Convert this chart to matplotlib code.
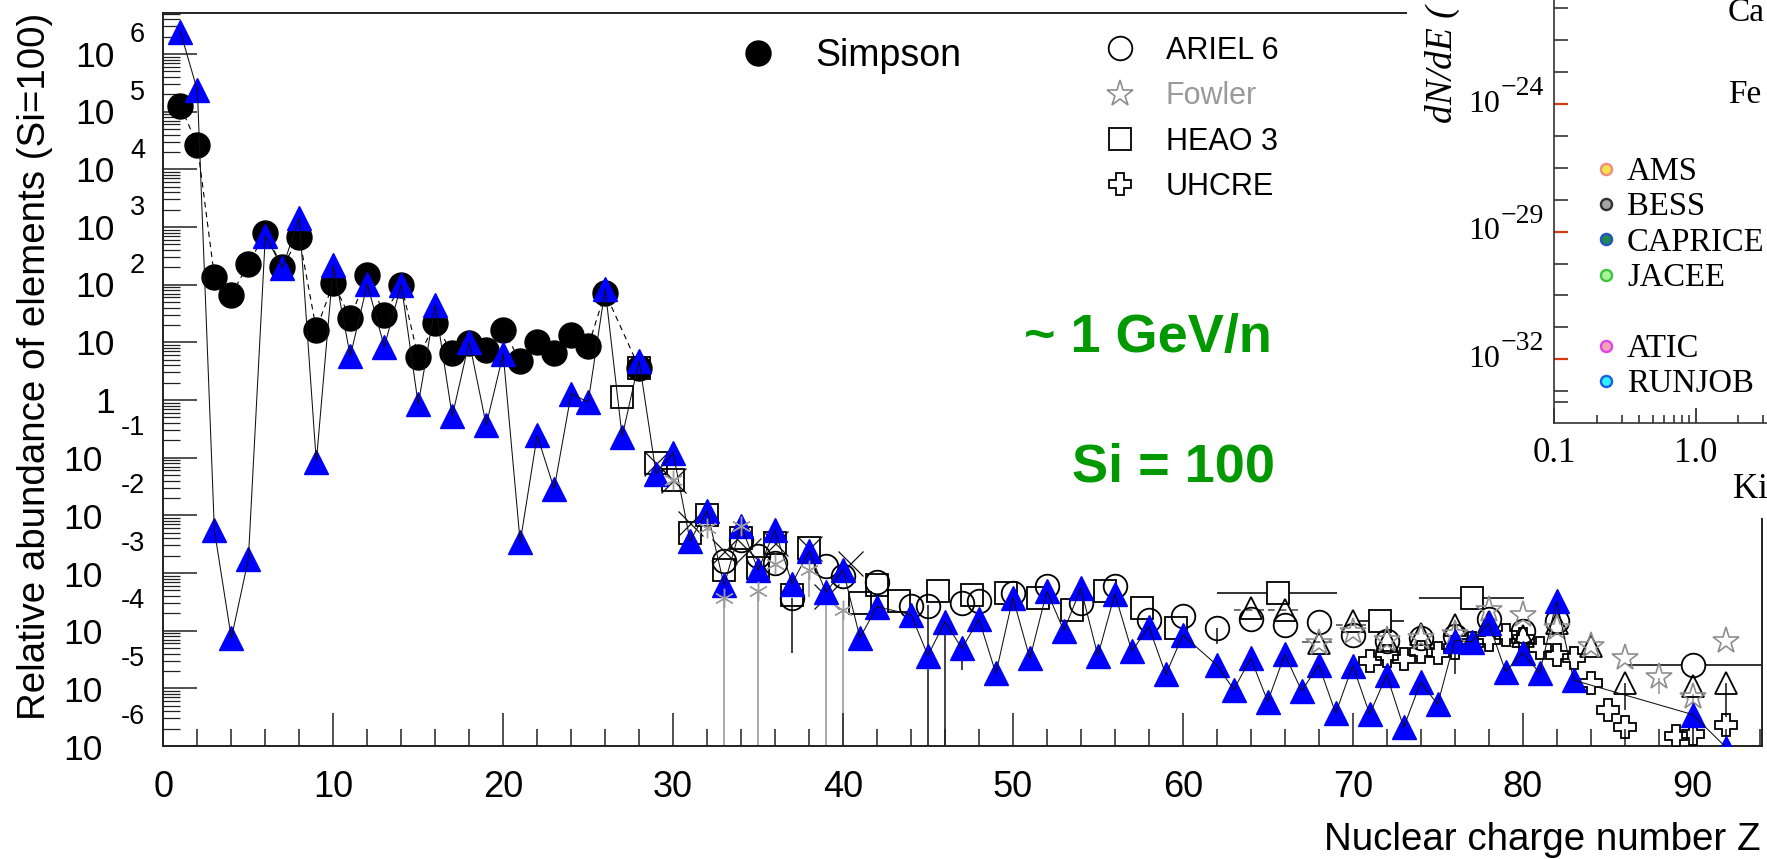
import numpy as np
import matplotlib
matplotlib.use("Agg")
import matplotlib.pyplot as plt
from matplotlib.lines import Line2D
from matplotlib.patches import Rectangle
from matplotlib.ticker import (FixedLocator, MultipleLocator, LogLocator,
                               FixedFormatter, NullFormatter)

plt.rcParams["font.family"] = ["Liberation Sans", "DejaVu Sans"]

# ---------------------------------------------------------------------------
# Data: relative abundance of elements, Si = 100 (log10 values)
# ---------------------------------------------------------------------------
# solar system abundances (blue triangles)
solar_z = list(range(1, 43)) + list(range(44, 61)) + list(range(62, 84)) + [90, 92]
solar_ab = [
    2.431e6, 2.343e5, 5.547e-3, 7.374e-5, 1.732e-3, 708, 195, 1413, 0.0841, 214.8,
    5.751, 102.0, 8.41, 100.0, 0.8373, 44.49, 0.5237, 10.25, 0.3692, 6.287,
    3.42e-3, 0.2422, 0.02884, 1.286, 0.9168, 83.8, 0.2323, 4.78, 0.0527, 0.1226,
    3.597e-3, 0.01206, 6.089e-4, 6.579e-3, 1.132e-3, 5.515e-3, 6.572e-4, 2.364e-3,
    4.608e-4, 1.133e-3, 7.554e-5, 2.601e-4,
    1.900e-4, 3.708e-5, 1.435e-4, 4.913e-5, 1.584e-4, 1.810e-5, 3.733e-4, 3.292e-5,
    4.815e-4, 9.975e-5, 5.391e-4, 3.671e-5, 4.351e-4, 4.405e-5, 1.169e-4, 1.737e-5,
    8.355e-5,
    2.542e-5, 9.513e-6, 3.321e-5, 5.907e-6, 3.862e-5, 8.986e-6, 2.554e-5, 3.700e-6,
    2.484e-5, 3.572e-6, 1.699e-5, 2.099e-6, 1.277e-5, 5.254e-6, 6.738e-5, 6.448e-5,
    1.357e-4, 1.955e-5, 4.128e-5, 1.845e-5, 3.258e-4, 1.388e-5,
    3.512e-6, 9.306e-7,
]

simpson_z = list(range(1, 27)) + [28]
simpson_log = [5.10, 4.42, 2.14, 1.82, 2.36, 2.89, 2.31, 2.82, 1.22, 2.03,
               1.42, 2.17, 1.48, 2.00, 0.74, 1.33, 0.81, 0.99, 0.87, 1.22,
               0.67, 1.01, 0.82, 1.13, 0.93, 1.86, 0.56]

ariel_z = [33, 34, 35, 36, 37, 39, 40, 42, 44, 45, 47, 48, 50, 52, 54, 56, 58,
           60, 62, 64, 66, 68, 70, 72, 74, 76, 78, 80, 82]
ariel_log = [-2.80, -2.42, -2.71, -2.82, -3.43, -2.88, -3.06, -3.15, -3.58, -3.57,
             -3.52, -3.49, -3.35, -3.23, -3.52, -3.23, -3.81, -3.74, -3.95, -3.80,
             -3.90, -3.85, -4.07, -4.18, -4.12, -4.10, -3.80, -4.00, -3.84]
ariel_bin_z, ariel_bin_log, ariel_bin_lo, ariel_bin_hi = [90], [-4.59], [86.2], [96.0]

fowler_z = [68, 70, 72, 74, 76, 78, 80, 82, 84, 86, 88, 90, 92]
fowler_log = [-4.21, -4.02, -4.16, -4.12, -4.05, -3.64, -3.72, -3.95, -4.27,
              -4.47, -4.80, -5.15, -4.18]

heao_z = [27, 28, 29, 30, 31, 32, 33, 34, 35, 36, 37, 38, 41, 42, 43.3, 45.6,
          47.6, 49.6, 51.5, 53.5, 55.4, 57.6, 59.6]
heao_log = [0.06, 0.55, -1.09, -1.38, -2.31, -1.99, -2.94, -2.39, -2.91, -2.48,
            -3.38, -2.57, -3.52, -3.20, -3.49, -3.32, -3.38, -3.35, -3.43, -3.64,
            -3.32, -3.61, -3.95]
heao_bin_z = [65.6, 71.6, 77.0]
heao_bin_log = [-3.35, -3.84, -3.44]
heao_bin_lo = [62.0, 70.3, 73.9]
heao_bin_hi = [69.1, 73.0, 80.1]

uhcre_z = [71, 72, 73, 74, 75, 76, 77, 78, 79, 80, 81, 82, 83, 84, 85, 86, 89, 90, 92]
uhcre_log = [-4.53, -4.44, -4.50, -4.37, -4.39, -4.30, -4.22, -4.16, -4.08, -4.15,
             -4.30, -4.42, -4.47, -4.90, -5.37, -5.67, -5.82, -5.80, -5.63]

# other data sets (open triangles, crosses, asterisks)
otri_z = [64, 66, 68, 70, 72, 74, 76, 78, 80, 82, 84, 86, 90, 92]
otri_log = [-3.61, -3.64, -4.21, -3.84, -4.16, -4.05, -3.91, -3.85, -4.10, -3.87,
            -4.27, -4.91, -4.96, -4.91]
otri_bar_log = [-3.64, -3.64, -4.20, -3.90]
otri_bar_lo = [63, 65, 67, 69]
otri_bar_hi = [65, 67, 69, 71]

xmark_z = [29, 30, 31, 33, 34.4, 36, 38, 39, 40.4]
xmark_log = [-1.09, -1.38, -2.13, -2.62, -2.60, -2.48, -2.57, -3.40, -2.83]

snow_z = [30, 32, 33, 34, 35, 36, 38, 40]
snow_log = [-1.38, -2.22, -3.43, -2.19, -3.32, -2.85, -2.94, -3.64]

# vertical error bars (log10 top / bottom, -7 = runs off the axis)
err_gray_z = [33, 35, 38, 39, 40, 88, 90]
err_gray_top = [-3.43, -3.32, -2.98, -3.40, -3.64, -4.82, -5.10]
err_gray_bot = [-7, -7, -3.41, -7, -7, -5.10, -7]
err_black_z = [37, 44, 45, 46, 47, 62, 76, 86, 92]
err_black_top = [-3.43, -3.58, -3.55, -3.84, -4.33, -3.95, -3.90, -4.91, -4.91]
err_black_bot = [-4.38, -3.95, -7, -7, -4.68, -4.24, -4.76, -5.37, -5.50]

# decades labelled on the y axis
exps = list(range(-6, 7))

# inset (fragment of a second figure)
inset_names = ["AMS", "BESS", "CAPRICE", "JACEE", "", "ATIC", "RUNJOB"]
inset_face = ["#f3e44c", "#a3a3a3", "#1f8a4c", "#a9f39a", None, "#f4a3b5", "#2ff0ff"]
inset_edge = ["#f28c7c", "#303030", "#1d55c8", "#3cc43c", None, "#e044e6", "#1a5ee6"]
inset_major = [0, -4, -8]
inset_major_exp = ["\u221224", "\u221229", "\u221232"]
inset_minor = [3, 2, 1, -1, -2, -3, -5, -6, -7, -9, -9.34]


def p(v):
    return 10.0 ** np.asarray(v, dtype=float)


W, H = 1767, 859
fig = plt.figure(figsize=(W / 100, H / 100), dpi=100)


def fbox(x0, y0, x1, y1):
    return [x0 / W, 1 - y1 / H, (x1 - x0) / W, (y1 - y0) / H]


AX_L, AX_R = 163.4, 1762
ax = fig.add_axes(fbox(AX_L, 13, AX_R, 746))
ax.set_yscale("log")
ax.set_xlim(0, 94.09)
ax.set_ylim(1e-6, 10 ** 6.71)

# error bars
ax.vlines(err_gray_z, p(err_gray_bot), p(err_gray_top), colors="#9c9c9c", lw=1.2, zorder=1)
ax.vlines(err_black_z, p(err_black_bot), p(err_black_top), colors="#222222", lw=1.2, zorder=1)
ax.hlines(p(otri_bar_log), otri_bar_lo, otri_bar_hi, colors="#555555",
          linestyles=(0, (4, 3)), lw=1.2, zorder=1)
ax.hlines(p(heao_bin_log), heao_bin_lo, heao_bin_hi, colors="#222222", lw=1.3, zorder=1)
ax.hlines(p(ariel_bin_log), ariel_bin_lo, ariel_bin_hi, colors="#222222", lw=1.3, zorder=1)

h_heao, = ax.plot(heao_z, p(heao_log), ls="none", marker="s", mfc="none", mec="k",
                  ms=16.5, mew=1.3, zorder=3)
ax.plot(heao_bin_z, p(heao_bin_log), ls="none", marker="s", mfc="white", mec="k",
        ms=16.5, mew=1.3, zorder=3)
h_ariel, = ax.plot(ariel_z, p(ariel_log), ls="none", marker="o", mfc="none", mec="k",
                   ms=17, mew=1.3, zorder=3)
ax.plot(ariel_bin_z, p(ariel_bin_log), ls="none", marker="o", mfc="white", mec="k",
        ms=17, mew=1.3, zorder=3)
ax.plot(otri_z, p(otri_log), ls="none", marker="^", mfc="none", mec="k",
        ms=16, mew=1.3, zorder=3)
h_uhcre, = ax.plot(uhcre_z, p(uhcre_log), ls="none", marker="P", mfc="none", mec="k",
                   ms=16, mew=1.3, zorder=3)
h_fowler, = ax.plot(fowler_z, p(fowler_log), ls="none", marker="*", mfc="none",
                    mec="#8e8e8e", ms=20, mew=1.2, zorder=3)
ax.plot(xmark_z, p(xmark_log), ls="none", marker="x", color="#111111", ms=18, mew=0.9, zorder=3)

ax.plot(simpson_z, p(simpson_log), color="k", ls=(0, (5, 4)), lw=0.8, zorder=4)
h_simpson, = ax.plot(simpson_z, p(simpson_log), ls="none", marker="o", color="k",
                     ms=18, zorder=4)

ax.plot(solar_z, solar_ab, ls="none", marker="^", color="#0000ff", ms=17, zorder=5)
ax.plot(solar_z, solar_ab, color="#111111", lw=0.75, zorder=6)
ax.plot(snow_z, p(snow_log), ls="none", marker=(6, 2, 0), color="#9c9c9c", ms=14,
        mew=1.0, zorder=6)

# axes styling
for s in ax.spines.values():
    s.set_linewidth(1.4)
    s.set_color("#222222")
ax.xaxis.set_major_locator(MultipleLocator(10))
ax.xaxis.set_minor_locator(MultipleLocator(2))
ax.yaxis.set_major_locator(FixedLocator(p(exps)))
ax.yaxis.set_major_formatter(NullFormatter())
ax.yaxis.set_minor_locator(LogLocator(base=10, subs=np.arange(2, 10), numticks=100))
ax.yaxis.set_minor_formatter(NullFormatter())
ax.tick_params(axis="both", which="both", direction="in", color="#222222",
               top=False, right=False)
ax.tick_params(axis="x", which="major", length=24, width=1.1, labelsize=26, pad=17)
ax.tick_params(axis="x", which="minor", length=12, width=1.1)
ax.tick_params(axis="y", which="major", length=24.5, width=1.1)
ax.tick_params(axis="y", which="minor", length=12.2, width=0.9)

# y tick labels drawn as "10" with a raised exponent, like the original
ytr = ax.get_yaxis_transform()


def axfrac(px):
    return (px - AX_L) / (AX_R - AX_L)


for e in exps:
    base = "1" if e == 0 else "10"
    base_x = 103 if e < 0 else 114.5
    ax.annotate(base, xy=(axfrac(base_x), 10.0 ** e), xycoords=ytr,
                xytext=(0, -2.4 if e >= 0 else -3), textcoords="offset points",
                ha="right", va="center", fontsize=25.5, annotation_clip=False)
    if e not in (0, 1):
        ax.annotate(str(e), xy=(axfrac(145), 10.0 ** e), xycoords=ytr,
                    xytext=(0, 13.5 if e > 0 else 21), textcoords="offset points",
                    ha="right", va="center", fontsize=19.5, annotation_clip=False)

fig.text(1761 / W, 1 - 840 / H, "Nuclear charge number Z", ha="right", va="center",
         fontsize=27.7)
fig.text(35 / W, 1 - 366 / H, "Relative abundance of elements (Si=100)", rotation=90,
         ha="center", va="center", fontsize=27.7)

fig.text(1272 / W, 1 - 338 / H, "~ 1 GeV/n", ha="right", va="center", color="#009900",
         fontsize=39, fontweight="bold")
fig.text(1275 / W, 1 - 467 / H, "Si = 100", ha="right", va="center", color="#009900",
         fontsize=39, fontweight="bold")

# legends of the main plot
em1 = 27 * 100 / 72
fig.legend([h_simpson], ["Simpson"], loc="center left",
           bbox_to_anchor=((758 - em1 * 0.5) / W, 1 - 56 / H), frameon=False,
           fontsize=27, handlelength=1.0, handletextpad=1.02, borderpad=0,
           borderaxespad=0, numpoints=1)
em2 = 22 * 100 / 72
leg2 = fig.legend([h_ariel, h_fowler, h_heao, h_uhcre],
                  ["ARIEL 6", "Fowler", "HEAO 3", "UHCRE"], loc="center left",
                  bbox_to_anchor=((1120 - em2 * 0.5) / W, 1 - 119 / H), frameon=False,
                  fontsize=22, handlelength=1.0, handletextpad=1.0, labelspacing=0.5,
                  borderpad=0, borderaxespad=0, numpoints=1)
leg2.get_texts()[1].set_color("#9a9a9a")

# overlapping fragment of another figure (top right)
fig.add_artist(Rectangle((1407 / W, 1 - 518 / H), (W - 1407) / W, 518 / H,
                         transform=fig.transFigure, facecolor="white",
                         edgecolor="none", zorder=1))

IN_L, IN_R = 1554, 1767
ax_in = fig.add_axes(fbox(IN_L, 0, IN_R, 423))
ax_in.set_zorder(3)
ax_in.set_xscale("log")
ax_in.set_xlim(0.1, 10 ** (-1 + (IN_R - IN_L) / 141.7))
ax_in.set_ylim(-10, 104 / 31.9)
ax_in.spines["top"].set_visible(False)
ax_in.spines["right"].set_visible(False)
for s in ("left", "bottom"):
    ax_in.spines[s].set_linewidth(1.2)
    ax_in.spines[s].set_color("#333333")
ax_in.yaxis.set_major_locator(FixedLocator(inset_major))
ax_in.yaxis.set_major_formatter(NullFormatter())
ax_in.yaxis.set_minor_locator(FixedLocator(inset_minor))
ax_in.xaxis.set_major_locator(FixedLocator([0.1, 1.0]))
ax_in.xaxis.set_major_formatter(FixedFormatter(["0.1", "1.0"]))
ax_in.xaxis.set_minor_locator(LogLocator(base=10, subs=np.arange(2, 10), numticks=20))
ax_in.xaxis.set_minor_formatter(NullFormatter())
ax_in.tick_params(axis="both", which="both", direction="in",
                  labelfontfamily="Liberation Serif")
ax_in.tick_params(axis="y", which="major", length=10, width=1.6, color="#d8380e")
ax_in.tick_params(axis="y", which="minor", length=10, width=1.1, color="#222222")
ax_in.tick_params(axis="x", which="major", length=11, width=1.2, color="#222222",
                  labelsize=25, pad=10)
ax_in.tick_params(axis="x", which="minor", length=6, width=1.1, color="#222222")

serif = "Liberation Serif"
ytr_in = ax_in.get_yaxis_transform()
for v, ex in zip(inset_major, inset_major_exp):
    ax_in.annotate("10", xy=((1500 - IN_L) / (IN_R - IN_L), v), xycoords=ytr_in,
                   ha="right", va="center", fontsize=23, family=serif,
                   annotation_clip=False)
    ax_in.annotate(ex, xy=((1501 - IN_L) / (IN_R - IN_L), v), xycoords=ytr_in,
                   xytext=(0, 11), textcoords="offset points", ha="left", va="center",
                   fontsize=20, family=serif, annotation_clip=False)

fig.text(1442 / W, 1 - 123 / H, "dN/dE (", rotation=90, ha="center", va="bottom",
         fontsize=27, family=serif, style="italic", zorder=4)
fig.text(1728 / W, 1 - 13 / H, "Ca", ha="left", va="center", fontsize=24, family=serif, zorder=4)
fig.text(1728 / W, 1 - 95 / H, "Fe", ha="left", va="center", fontsize=24, family=serif, zorder=4)
fig.text(1733 / W, 1 - 490 / H, "Ki", ha="left", va="center", fontsize=25, family=serif, zorder=4)

in_handles = []
for fc, ec in zip(inset_face, inset_edge):
    if fc is None:
        in_handles.append(Line2D([], [], ls="none"))
    else:
        in_handles.append(Line2D([], [], ls="none", marker="o", ms=8, mew=1.7,
                                 mfc=fc, mec=ec))
fs3 = 23.5
em3 = fs3 * 100 / 72
fig.legend(in_handles, inset_names, loc="center left",
           bbox_to_anchor=((1606 - em3 * 0.25) / W, 1 - 278 / H), frameon=False,
           prop={"family": serif, "size": fs3}, handlelength=0.5, handletextpad=0.39,
           labelspacing=0.15, borderpad=0, borderaxespad=0, numpoints=1)

fig.savefig("out.png", dpi=100)
